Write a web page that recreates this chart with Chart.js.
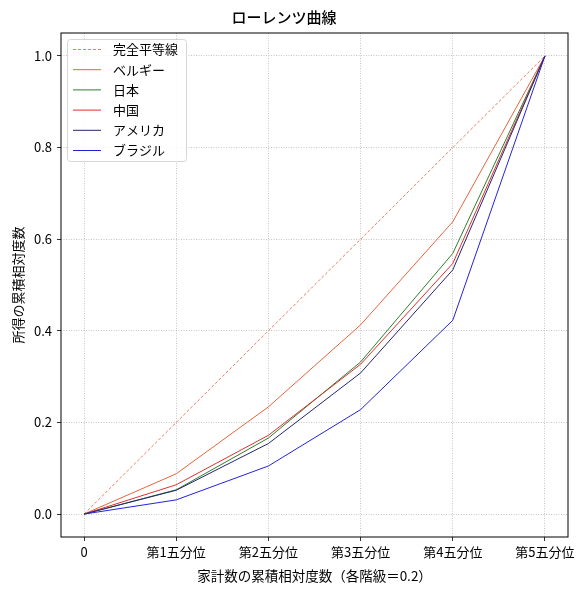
<!DOCTYPE html>
<html>
<head>
<meta charset="utf-8">
<script src="https://cdn.jsdelivr.net/npm/chart.js@4"></script>
<style>
  html, body { margin: 0; padding: 0; background: #fff; }
  #wrap { width: 587px; height: 590px; }
</style>
</head>
<body>
<div id="wrap"><canvas id="lorenz"></canvas></div>
<script>
const FONT = "'Noto Sans CJK JP', 'DejaVu Sans', sans-serif";

const categories = ['0', '第1五分位', '第2五分位', '第3五分位', '第4五分位', '第5五分位'];
const yTicks = [0, 0.2, 0.4, 0.6, 0.8, 1.0];

const seriesNames = ['完全平等線', 'ベルギー', '日本', '中国', 'アメリカ', 'ブラジル'];
const equality = [0, 0.2, 0.4, 0.6, 0.8, 1.0];
const belgium = [0, 0.088, 0.234, 0.413, 0.638, 1.0];
const japan = [0, 0.053, 0.166, 0.332, 0.569, 1.0];
const china = [0, 0.064, 0.172, 0.327, 0.547, 1.0];
const usa = [0, 0.052, 0.154, 0.308, 0.533, 1.0];
const brazil = [0, 0.031, 0.105, 0.228, 0.423, 1.0];

const colors = ['#f07a5c', '#e8643c', '#2e7d2e', '#dd3030', '#26266e', '#2222dd'];
const seriesValues = [equality, belgium, japan, china, usa, brazil];

const toPoints = (values) => values.map((v, i) => ({ x: i, y: v }));

const datasets = seriesValues.map((values, i) => ({
  label: seriesNames[i],
  data: toPoints(values),
  borderColor: colors[i],
  borderWidth: 1,
  borderDash: i === 0 ? [3, 2] : [],
  pointRadius: 0,
  tension: 0,
  fill: false,
  order: seriesValues.length - i,
}));

// black frame around the plot area, matplotlib style
const frame = {
  id: 'frame',
  afterDatasetsDraw(chart) {
    const { ctx, chartArea: a } = chart;
    ctx.save();
    ctx.strokeStyle = '#000';
    ctx.lineWidth = 1;
    ctx.strokeRect(a.left, a.top, a.right - a.left, a.bottom - a.top);
    ctx.restore();
  },
};

// legend drawn inside the plot, upper left
const innerLegend = {
  id: 'innerLegend',
  afterDraw(chart) {
    const { ctx, chartArea: a } = chart;
    const x = a.left + 6;
    const y = a.top + 6;
    const w = 119;
    const h = 122;
    ctx.save();
    ctx.fillStyle = 'rgba(255,255,255,0.85)';
    ctx.strokeStyle = '#d6d6d6';
    ctx.lineWidth = 1;
    ctx.beginPath();
    ctx.roundRect(x + 0.5, y + 0.5, w, h, 3);
    ctx.fill();
    ctx.stroke();
    ctx.font = `13px ${FONT}`;
    ctx.textBaseline = 'middle';
    chart.data.datasets.forEach((ds, i) => {
      const ly = y + 10.5 + i * 20.2;
      ctx.strokeStyle = ds.borderColor;
      ctx.lineWidth = ds.borderWidth;
      ctx.setLineDash(ds.borderDash);
      ctx.beginPath();
      ctx.moveTo(x + 6, ly);
      ctx.lineTo(x + 34, ly);
      ctx.stroke();
      ctx.setLineDash([]);
      ctx.fillStyle = '#000';
      ctx.fillText(ds.label, x + 46, ly);
    });
    ctx.restore();
  },
};

const gridOpts = {
  color: '#b8b8b8',
  lineWidth: 0.8,
  tickColor: '#000',
  tickLength: 4,
  tickBorderDash: [],
};

new Chart(document.getElementById('lorenz'), {
  type: 'line',
  data: { datasets },
  plugins: [frame, innerLegend],
  options: {
    responsive: true,
    maintainAspectRatio: false,
    animation: false,
    layout: { padding: { left: 0, right: 19, top: 0, bottom: 0 } },
    plugins: {
      legend: { display: false },
      tooltip: { enabled: false },
      title: {
        display: true,
        text: 'ローレンツ曲線',
        color: '#000',
        font: { family: FONT, size: 15, weight: '500' },
        padding: { top: 8, bottom: 7 },
      },
    },
    scales: {
      x: {
        type: 'linear',
        min: -0.25,
        max: 5.25,
        afterBuildTicks: (scale) => {
          scale.ticks = categories.map((_, i) => ({ value: i }));
        },
        afterFit: (scale) => { scale.height = 53; },
        ticks: {
          color: '#000',
          font: { family: FONT, size: 13 },
          padding: 3,
          maxRotation: 0,
          autoSkip: false,
          callback: (v) => categories[v],
        },
        grid: gridOpts,
        border: { display: false, dash: [1, 1.5] },
        title: {
          display: true,
          text: '家計数の累積相対度数（各階級＝0.2）',
          color: '#000',
          font: { family: FONT, size: 13.5 },
          padding: { top: 0, bottom: 6 },
        },
      },
      y: {
        type: 'linear',
        min: -0.05,
        max: 1.05,
        afterBuildTicks: (scale) => {
          scale.ticks = yTicks.map((v) => ({ value: v }));
        },
        afterFit: (scale) => { scale.width = 61; },
        ticks: {
          color: '#000',
          font: { family: FONT, size: 13 },
          padding: 5,
          callback: (v) => v.toFixed(1),
        },
        grid: gridOpts,
        border: { display: false, dash: [1, 1.5] },
        title: {
          display: true,
          text: '所得の累積相対度数',
          color: '#000',
          font: { family: FONT, size: 13 },
          padding: { top: 10, bottom: 0 },
        },
      },
    },
  },
});
</script>
</body>
</html>
